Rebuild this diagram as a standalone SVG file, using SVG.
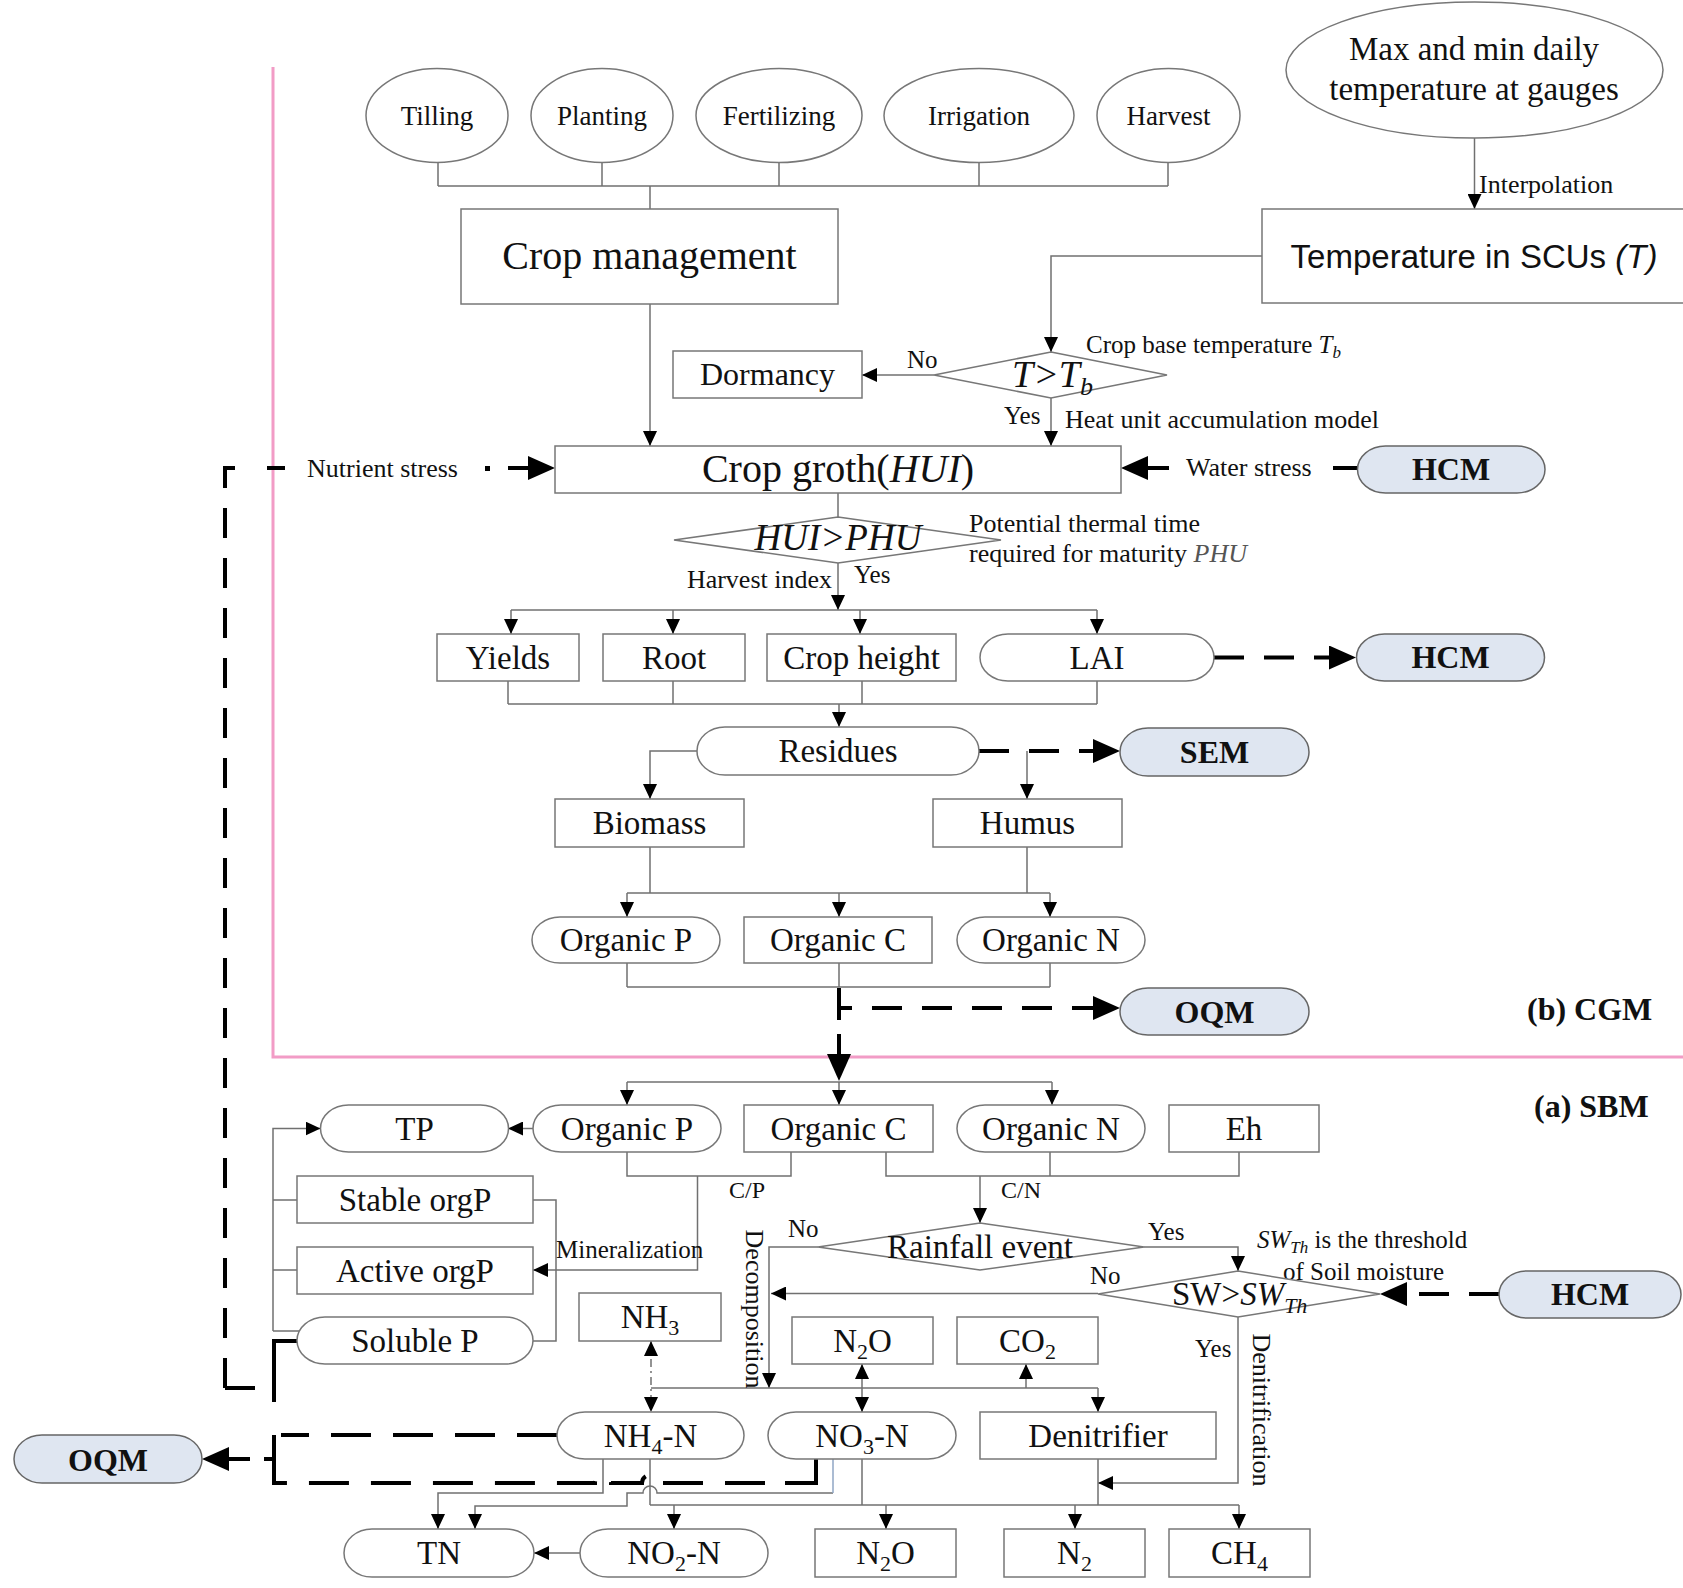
<svg xmlns="http://www.w3.org/2000/svg" width="1683" height="1588" viewBox="0 0 1683 1588">
<defs>
<style>
.n{fill:#fff;stroke:#777;stroke-width:1.5}
.hc{fill:#dfe6f1;stroke:#666;stroke-width:1.5}
.c{fill:none;stroke:#707070;stroke-width:1.5}
.tk{fill:none;stroke:#000;stroke-width:4}
.d{stroke-dasharray:30 20}
.dd{stroke-dasharray:40 22}
.t{font-family:"Liberation Serif","Times New Roman",serif;fill:#111}
.s{font-family:"Liberation Sans",Arial,sans-serif;fill:#111}
.m{text-anchor:middle}
.b{font-weight:bold}
.i{font-style:italic}
.pk{fill:none;stroke:#f29cc6;stroke-width:3}
</style>
<marker id="a" markerUnits="userSpaceOnUse" markerWidth="16" markerHeight="14" refX="15" refY="7" orient="auto"><path d="M0,0 L15,7 L0,14 z" fill="#000"/></marker>
<marker id="as" markerUnits="userSpaceOnUse" markerWidth="16" markerHeight="14" refX="15" refY="7" orient="auto-start-reverse"><path d="M0,0 L15,7 L0,14 z" fill="#000"/></marker>
<marker id="ab" markerUnits="userSpaceOnUse" markerWidth="28" markerHeight="24" refX="15" refY="12" orient="auto"><path d="M0,0 L27,12 L0,24 z" fill="#000"/></marker>
</defs>

<!-- panel borders -->
<path class="pk" d="M273,67 V1057 H1683"/>

<g id="connectors">
<!-- management stems -->
<path class="c" d="M438,163 V186 M602,163 V186 M779,163 V186 M979,163 V186 M1168,163 V186 M438,186 H1168 M650,186 V209"/>
<path class="c" d="M1474.5,138 V209" marker-end="url(#a)"/>
<path class="c" d="M1262,256 H1051 V352" marker-end="url(#a)"/>
<path class="c" d="M934,375 H862" marker-end="url(#a)"/>
<path class="c" d="M1051,398 V446" marker-end="url(#a)"/>
<path class="c" d="M650,304 V446" marker-end="url(#a)"/>
<path class="c" d="M838,493 V517"/>
<path class="c" d="M838,563 V610" marker-end="url(#a)"/>
<path class="c" d="M511,610 H1097"/>
<path class="c" d="M511,610 V634" marker-end="url(#a)"/>
<path class="c" d="M673,610 V634" marker-end="url(#a)"/>
<path class="c" d="M860,610 V634" marker-end="url(#a)"/>
<path class="c" d="M1097,610 V634" marker-end="url(#a)"/>
<path class="c" d="M508,681 V704 M673,681 V704 M862,681 V704 M1097,681 V704 M508,704 H1097"/>
<path class="c" d="M839,704 V727" marker-end="url(#a)"/>
<path class="c" d="M697,751 H650 V799" marker-end="url(#a)"/>
<path class="c" d="M1027,751 V799" marker-end="url(#a)"/>
<path class="c" d="M650,847 V893 M1027,847 V893 M627,893 H1050"/>
<path class="c" d="M627,893 V917" marker-end="url(#a)"/>
<path class="c" d="M839,893 V917" marker-end="url(#a)"/>
<path class="c" d="M1050,893 V917" marker-end="url(#a)"/>
<path class="c" d="M627,963 V987 M839,963 V987 M1050,963 V987 M627,987 H1050"/>

<!-- thick dashed links in CGM -->
<path class="tk d" d="M979,751 H1108" marker-end="url(#ab)"/>
<path class="tk" d="M839,988 V1020 M839,1008 H852"/>
<path class="tk d" d="M872,1008 H1108" marker-end="url(#ab)"/>
<path class="tk d" d="M839,1034 V1069" marker-end="url(#ab)"/>
<path class="tk d" d="M1214,657.5 H1344" marker-end="url(#ab)"/>
<path class="tk" d="M1169,468 H1133" marker-end="url(#ab)"/>
<path class="tk" d="M1333,468 H1357"/>
<path class="tk d" d="M225,1388 V468 H250"/>
<path class="tk" d="M267,468 H285"/>
<rect x="485" y="466" width="5" height="5" fill="#000"/>
<path class="tk" d="M508,468 H543" marker-end="url(#ab)"/>

<!-- SBM -->
<path class="c" d="M627,1082 H1052"/>
<path class="c" d="M627,1082 V1105" marker-end="url(#a)"/>
<path class="c" d="M839,1082 V1105" marker-end="url(#a)"/>
<path class="c" d="M1052,1082 V1105" marker-end="url(#a)"/>
<path class="c" d="M533,1128.5 H508" marker-end="url(#a)"/>
<path class="c" d="M273,1331 V1128.5 H320.5" marker-end="url(#a)"/>
<path class="c" d="M273,1200 H297 M273,1270 H297 M273,1331 H300"/>
<path class="c" d="M533,1200 H556 V1341 H533"/>
<path class="c" d="M627,1152 V1176 H791 V1152"/>
<path class="c" d="M697.5,1176 V1270 H533" marker-end="url(#a)"/>
<path class="c" d="M886,1152 V1176 H1239 V1152 M1050,1152 V1176"/>
<path class="c" d="M980,1176 V1223" marker-end="url(#a)"/>
<path class="c" d="M818,1247 H769 V1388" marker-end="url(#a)"/>
<path class="c" d="M1144,1247 H1238 V1271" marker-end="url(#a)"/>
<path class="c" d="M1098,1293.5 H771" marker-end="url(#a)"/>
<path class="tk d" d="M1499,1294 H1392" marker-end="url(#ab)"/>
<path class="c" d="M1238,1317 V1483 H1098" marker-end="url(#a)"/>
<path class="c" d="M651,1388 H1098"/>
<path class="c" d="M651,1341 V1412" stroke-dasharray="8 4 2 4" marker-start="url(#as)" marker-end="url(#a)"/>
<path class="c" d="M862,1364 V1412" marker-start="url(#as)" marker-end="url(#a)"/>
<path class="c" d="M1026,1388 V1364" marker-end="url(#a)"/>
<path class="c" d="M1098,1388 V1412" marker-end="url(#a)"/>
<path class="c" d="M862,1459 V1505 M1098,1459 V1505 M650,1459 V1505 M650,1505 H1239"/>
<path class="c" d="M674,1505 V1529" marker-end="url(#a)"/>
<path class="c" d="M886,1505 V1529" marker-end="url(#a)"/>
<path class="c" d="M1075,1505 V1529" marker-end="url(#a)"/>
<path class="c" d="M1239,1505 V1529" marker-end="url(#a)"/>
<path class="c" d="M603,1459 V1493 H438 V1529" marker-end="url(#a)"/>
<path class="c" d="M833,1493 H657 a7,7 0 0 0 -14,0 H627 V1506 H475 V1529" marker-end="url(#a)"/>
<path fill="none" stroke="#8fa6c4" stroke-width="1.5" d="M833,1459 V1493"/>
<path class="c" d="M580,1553 H534" marker-end="url(#a)"/>
<path class="tk" d="M816,1459 V1483 H785"/>
<path class="tk dd" d="M765,1483 H658 a8,8 0 0 0 -16,0 H611 a8,8 0 0 0 -16,0 H274"/>
<path class="tk dd" d="M557,1435 H281"/>
<path class="tk" d="M274,1435 V1485 M274,1459 H264"/>
<path class="tk" d="M250,1459 H214" marker-end="url(#ab)"/>
<path class="tk" d="M297,1341 H274 V1402"/>
<path class="tk d" d="M225,1388 H269"/>
</g>

<!-- CGM nodes -->
<g id="tilling"><ellipse class="n" cx="437" cy="115.5" rx="71" ry="47"/><text class="t m" x="437" y="125" font-size="27">Tilling</text></g>
<g id="planting"><ellipse class="n" cx="602" cy="115.5" rx="71" ry="47"/><text class="t m" x="602" y="125" font-size="27">Planting</text></g>
<g id="fertilizing"><ellipse class="n" cx="779" cy="115.5" rx="83" ry="47"/><text class="t m" x="779" y="125" font-size="27">Fertilizing</text></g>
<g id="irrigation"><ellipse class="n" cx="979" cy="115.5" rx="95" ry="47"/><text class="t m" x="979" y="125" font-size="27">Irrigation</text></g>
<g id="harvest"><ellipse class="n" cx="1168.5" cy="115.5" rx="71.5" ry="47"/><text class="t m" x="1168.5" y="125" font-size="27">Harvest</text></g>
<g id="maxmin"><ellipse class="n" cx="1474.5" cy="70" rx="188.5" ry="68"/><text class="t m" x="1474" y="60" font-size="33">Max and min daily</text><text class="t m" x="1474" y="100" font-size="33">temperature at gauges</text></g>
<text class="t" x="1479" y="193" font-size="26">Interpolation</text>
<g id="crop-management"><rect class="n" x="461" y="209" width="377" height="95"/><text class="t m" x="649.5" y="269" font-size="40">Crop management</text></g>
<g id="temperature"><rect class="n" x="1262" y="209" width="430" height="94"/><text class="s m" x="1474" y="268" font-size="33">Temperature in SCUs <tspan class="i">(T)</tspan></text></g>
<g id="dormancy"><rect class="n" x="673" y="351" width="189" height="47"/><text class="t m" x="767.5" y="385" font-size="32">Dormancy</text></g>
<g id="t-tb"><path class="n" d="M1051,352 L1167,375 L1051,398 L934,375 Z"/><text class="t i" x="1012" y="387" font-size="38">T&gt;T<tspan font-size="26" dy="8">b</tspan></text></g>
<text class="t" x="1086" y="353" font-size="25">Crop base temperature <tspan class="i">T<tspan font-size="17" dy="5">b</tspan></tspan></text>
<text class="t" x="907" y="368" font-size="25">No</text>
<text class="t" x="1004" y="424" font-size="25">Yes</text>
<text class="t" x="1065" y="428" font-size="26">Heat unit accumulation model</text>
<text class="t" x="307" y="477" font-size="26">Nutrient stress</text>
<g id="crop-growth"><rect class="n" x="555" y="446" width="566" height="47"/><text class="t m" x="838" y="482" font-size="40">Crop groth(<tspan class="i">HUI</tspan>)</text></g>
<text class="t" x="1186" y="476" font-size="26">Water stress</text>
<g id="hcm1"><rect class="hc" x="1357.5" y="446" width="187.5" height="47" rx="28" ry="23.5"/><text class="t m b" x="1451" y="480" font-size="32">HCM</text></g>
<g id="hui-phu"><path class="n" d="M838,517 L1001,540 L838,563 L674,540 Z"/><text class="t m i" x="838" y="550" font-size="37">HUI&gt;PHU</text></g>
<text class="t" x="969" y="532" font-size="26">Potential thermal time</text>
<text class="t" x="969" y="562" font-size="26">required for maturity <tspan class="i" fill="#555">PHU</tspan></text>
<text class="t" x="832" y="588" font-size="26" text-anchor="end">Harvest index</text>
<text class="t" x="854" y="583" font-size="25">Yes</text>
<g id="yields"><rect class="n" x="437" y="634" width="142" height="47"/><text class="t m" x="508" y="669" font-size="33">Yields</text></g>
<g id="root"><rect class="n" x="603" y="634" width="142" height="47"/><text class="t m" x="674" y="669" font-size="33">Root</text></g>
<g id="crop-height"><rect class="n" x="767" y="634" width="189" height="47"/><text class="t m" x="861.5" y="669" font-size="33">Crop height</text></g>
<g id="lai"><rect class="n" x="980" y="634" width="234" height="47" rx="28" ry="23.5"/><text class="t m" x="1097" y="669" font-size="33">LAI</text></g>
<g id="hcm2"><rect class="hc" x="1356.5" y="634" width="188" height="47" rx="28" ry="23.5"/><text class="t m b" x="1450.5" y="668" font-size="32">HCM</text></g>
<g id="residues"><rect class="n" x="697" y="727" width="282" height="48" rx="28" ry="24"/><text class="t m" x="838" y="762" font-size="33">Residues</text></g>
<g id="sem"><rect class="hc" x="1120" y="728" width="189" height="48" rx="28" ry="24"/><text class="t m b" x="1214.5" y="763" font-size="32">SEM</text></g>
<g id="biomass"><rect class="n" x="555" y="799" width="189" height="48"/><text class="t m" x="649.5" y="834" font-size="33">Biomass</text></g>
<g id="humus"><rect class="n" x="933" y="799" width="189" height="48"/><text class="t m" x="1027.5" y="834" font-size="33">Humus</text></g>
<g id="cgm-organic-p"><rect class="n" x="532" y="917" width="188" height="46" rx="28" ry="23"/><text class="t m" x="626" y="951" font-size="33">Organic P</text></g>
<g id="cgm-organic-c"><rect class="n" x="744" y="917" width="188" height="46"/><text class="t m" x="838" y="951" font-size="33">Organic C</text></g>
<g id="cgm-organic-n"><rect class="n" x="957" y="917" width="188" height="46" rx="28" ry="23"/><text class="t m" x="1051" y="951" font-size="33">Organic N</text></g>
<g id="oqm1"><rect class="hc" x="1120" y="988" width="189" height="47" rx="28" ry="23.5"/><text class="t m b" x="1214.5" y="1023" font-size="32">OQM</text></g>
<text class="t b" x="1527" y="1020" font-size="32">(b) CGM</text>
<text class="t b" x="1534" y="1117" font-size="32">(a) SBM</text>

<!-- SBM nodes -->
<g id="tp"><rect class="n" x="320.5" y="1105" width="188" height="47" rx="28" ry="23.5"/><text class="t m" x="414.5" y="1140" font-size="33">TP</text></g>
<g id="sbm-organic-p"><rect class="n" x="533" y="1105" width="188" height="47" rx="28" ry="23.5"/><text class="t m" x="627" y="1140" font-size="33">Organic P</text></g>
<g id="sbm-organic-c"><rect class="n" x="744" y="1105" width="189" height="47"/><text class="t m" x="838.5" y="1140" font-size="33">Organic C</text></g>
<g id="sbm-organic-n"><rect class="n" x="957" y="1105" width="188" height="47" rx="28" ry="23.5"/><text class="t m" x="1051" y="1140" font-size="33">Organic N</text></g>
<g id="eh"><rect class="n" x="1169" y="1105" width="150" height="47"/><text class="t m" x="1244" y="1140" font-size="33">Eh</text></g>
<text class="t" x="729" y="1198" font-size="24">C/P</text>
<text class="t" x="1001" y="1198" font-size="24">C/N</text>
<g id="stable-orgp"><rect class="n" x="297" y="1176" width="236" height="47"/><text class="t m" x="415" y="1211" font-size="33">Stable orgP</text></g>
<g id="active-orgp"><rect class="n" x="297" y="1247" width="236" height="47"/><text class="t m" x="415" y="1282" font-size="33">Active orgP</text></g>
<g id="soluble-p"><rect class="n" x="297" y="1317" width="236" height="47" rx="28" ry="23.5"/><text class="t m" x="415" y="1352" font-size="33">Soluble P</text></g>
<text class="t" x="556" y="1258" font-size="25">Mineralization</text>
<g id="rainfall"><path class="n" d="M980,1223 L1144,1247 L980,1270 L818,1247 Z"/><text class="t m" x="980" y="1258" font-size="33">Rainfall event</text></g>
<text class="t" x="788" y="1237" font-size="25">No</text>
<text class="t" x="1148" y="1240" font-size="25">Yes</text>
<text class="t" x="1257" y="1248" font-size="25"><tspan class="i">SW<tspan font-size="17" dy="5">Th</tspan></tspan><tspan dy="-5"> is the threshold</tspan></text>
<text class="t" x="1283" y="1280" font-size="25">of Soil moisture</text>
<g id="sw"><path class="n" d="M1238,1271 L1380,1294 L1238,1317 L1098,1294 Z"/><text class="t" x="1172" y="1305" font-size="33">SW&gt;<tspan class="i">SW<tspan font-size="22" dy="8">Th</tspan></tspan></text></g>
<text class="t" x="1090" y="1284" font-size="25">No</text>
<g id="hcm3"><rect class="hc" x="1499" y="1271" width="182" height="47" rx="28" ry="23.5"/><text class="t m b" x="1590" y="1305" font-size="32">HCM</text></g>
<g id="nh3"><rect class="n" x="579" y="1293" width="142" height="48"/><text class="t m" x="650" y="1328" font-size="33">NH<tspan font-size="22" dy="7">3</tspan></text></g>
<text class="t m" transform="translate(746,1309) rotate(90)" font-size="26">Decomposition</text>
<text class="t m" transform="translate(1253,1410) rotate(90)" font-size="26">Denitrification</text>
<g id="n2o-top"><rect class="n" x="792" y="1317" width="141" height="47"/><text class="t m" x="862.5" y="1352" font-size="33">N<tspan font-size="22" dy="7">2</tspan><tspan dy="-7">O</tspan></text></g>
<g id="co2"><rect class="n" x="957" y="1317" width="141" height="47"/><text class="t m" x="1027.5" y="1352" font-size="33">CO<tspan font-size="22" dy="7">2</tspan></text></g>
<text class="t" x="1195" y="1357" font-size="25">Yes</text>
<g id="nh4"><rect class="n" x="557" y="1412" width="187" height="47" rx="28" ry="23.5"/><text class="t m" x="650.5" y="1447" font-size="33">NH<tspan font-size="22" dy="7">4</tspan><tspan dy="-7">-N</tspan></text></g>
<g id="no3"><rect class="n" x="768" y="1412" width="188" height="47" rx="28" ry="23.5"/><text class="t m" x="862" y="1447" font-size="33">NO<tspan font-size="22" dy="7">3</tspan><tspan dy="-7">-N</tspan></text></g>
<g id="denitrifier"><rect class="n" x="980" y="1412" width="236" height="47"/><text class="t m" x="1098" y="1447" font-size="33">Denitrifier</text></g>
<g id="oqm2"><rect class="hc" x="14" y="1435" width="188" height="48" rx="28" ry="24"/><text class="t m b" x="108" y="1471" font-size="32">OQM</text></g>
<g id="tn"><rect class="n" x="344" y="1529" width="190" height="48" rx="28" ry="24"/><text class="t m" x="439" y="1564" font-size="33">TN</text></g>
<g id="no2"><rect class="n" x="580" y="1529" width="188" height="48" rx="28" ry="24"/><text class="t m" x="674" y="1564" font-size="33">NO<tspan font-size="22" dy="7">2</tspan><tspan dy="-7">-N</tspan></text></g>
<g id="n2o-bottom"><rect class="n" x="815" y="1529" width="141" height="48"/><text class="t m" x="885.5" y="1564" font-size="33">N<tspan font-size="22" dy="7">2</tspan><tspan dy="-7">O</tspan></text></g>
<g id="n2"><rect class="n" x="1004" y="1529" width="141" height="48"/><text class="t m" x="1074.5" y="1564" font-size="33">N<tspan font-size="22" dy="7">2</tspan></text></g>
<g id="ch4"><rect class="n" x="1169" y="1529" width="141" height="48"/><text class="t m" x="1239.5" y="1564" font-size="33">CH<tspan font-size="22" dy="7">4</tspan></text></g>
</svg>
